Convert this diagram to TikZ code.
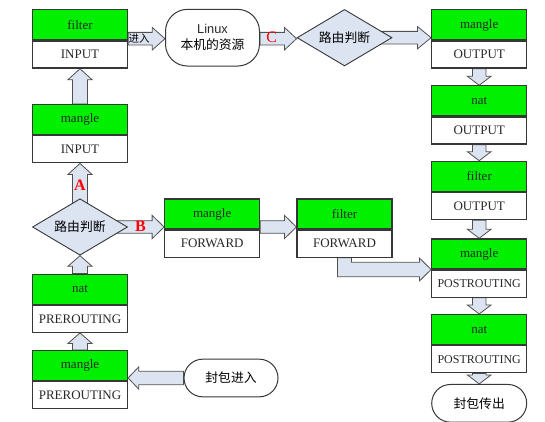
\documentclass[tikz,border=0pt]{standalone}
\usepackage{fontspec}
\setmainfont{Liberation Serif}
\newfontfamily\cjk{Noto Sans CJK SC}
\newfontfamily\lsans{Liberation Sans}
\usetikzlibrary{shapes.geometric,calc,backgrounds}
\definecolor{boxgreen}{RGB}{0,240,0}
\definecolor{arrfill}{RGB}{220,228,242}
\definecolor{edge}{RGB}{55,55,55}
\definecolor{arredge}{RGB}{80,80,80}
\definecolor{lbl}{RGB}{40,40,40}
\newcommand\boxfont{\fontsize{13}{15}\selectfont}
\newcommand\cjkfont{\cjk\fontsize{12.8}{16}\selectfont}
\newcommand\tbox[5]{%
  \node[gbox,anchor=north] (#1T) at (#2,#3) {#4};
  \node[wbox,anchor=north] (#1B) at (#1T.south) {#5};}
\newcommand\uparr[5]{\path[blk] let \p1=(#1), \p2=(#2) in
  (\x2-#3pt,\y1) -- (\x2-#3pt,\y2-#5pt) -- (\x2-#4pt,\y2-#5pt) -- (\x2,\y2) --
  (\x2+#4pt,\y2-#5pt) -- (\x2+#3pt,\y2-#5pt) -- (\x2+#3pt,\y1) -- cycle;}
\newcommand\downarr[5]{\path[blk] let \p1=(#1), \p2=(#2) in
  (\x2-#3pt,\y1) -- (\x2-#3pt,\y2+#5pt) -- (\x2-#4pt,\y2+#5pt) -- (\x2,\y2) --
  (\x2+#4pt,\y2+#5pt) -- (\x2+#3pt,\y2+#5pt) -- (\x2+#3pt,\y1) -- cycle;}
\newcommand\rightarr[5]{\path[blk] let \p1=(#1), \p2=(#2) in
  (\x1,\y2+#3pt) -- (\x2-#5pt,\y2+#3pt) -- (\x2-#5pt,\y2+#4pt) -- (\x2,\y2) --
  (\x2-#5pt,\y2-#4pt) -- (\x2-#5pt,\y2-#3pt) -- (\x1,\y2-#3pt) -- cycle;}
\newcommand\leftarr[5]{\path[blk] let \p1=(#1), \p2=(#2) in
  (\x1,\y2+#3pt) -- (\x2+#5pt,\y2+#3pt) -- (\x2+#5pt,\y2+#4pt) -- (\x2,\y2) --
  (\x2+#5pt,\y2-#4pt) -- (\x2+#5pt,\y2-#3pt) -- (\x1,\y2-#3pt) -- cycle;}
\begin{document}
\begin{tikzpicture}[x=1pt,y=-1pt,
  gbox/.style={draw=edge, line width=1.2pt, fill=boxgreen, minimum width=95pt,
    minimum height=30pt, inner sep=0pt, font=\boxfont, text=lbl},
  wbox/.style={gbox, fill=white, minimum height=27pt},
  dia/.style={diamond, aspect=1.7, draw=edge, line width=0.9pt, fill=arrfill,
    minimum width=95pt, minimum height=56.5pt, inner sep=0pt, font=\cjkfont},
  rbox/.style={draw=edge, line width=1pt, fill=white, inner sep=0pt,
    minimum width=94pt, font=\cjkfont, align=center},
  blk/.style={draw=arredge, line width=0.8pt, fill=arrfill},
  redlbl/.style={text=red, font=\fontsize{16}{16}\selectfont, inner sep=0pt}]
\useasboundingbox (0,0) rectangle (545,422);
\clip (0,0) rectangle (545,422);
% boxes
\tbox{fi}{80}{9.3}{filter}{INPUT}
\tbox{mi}{80}{104}{mangle}{INPUT}
\tbox{np}{80}{273.5}{nat}{PREROUTING}
\tbox{mp}{80}{350}{mangle}{PREROUTING}
\tbox{mf}{212.2}{198.3}{mangle}{FORWARD}
\tbox{ff}{344.5}{198.3}{filter}{FORWARD}
\tbox{mo}{479.2}{9.3}{mangle}{OUTPUT}
\tbox{no}{479.2}{85.3}{nat}{OUTPUT}
\tbox{fo}{479.2}{160.7}{filter}{OUTPUT}
\tbox{mpo}{479.2}{238.3}{mangle}{{\fontsize{12}{15}\selectfont POSTROUTING}}
\tbox{npo}{479.2}{314}{nat}{{\fontsize{12}{15}\selectfont POSTROUTING}}
% diamonds and rounded boxes
\node[dia] (d1) at (80,227) {路由判断};
\node[dia] (d2) at (344.5,37.7) {路由判断};
\node[rbox, rounded corners=22pt, minimum height=56.7pt] (lx) at (212.5,37.7)
  {{\lsans\color{lbl}Linux}\\本机的资源};
\node[rbox, rounded corners=18.8pt, minimum height=37.7pt] (pin) at (231,378) {封包进入};
\node[rbox, rounded corners=18.8pt, minimum height=37.7pt, minimum width=95pt] (pout) at (479.2,403.3) {封包传出};
% arrows
\begin{scope}[on background layer]
\uparr{miT.north}{fiB.south}{7.5}{12}{11}
\uparr{$(d1.north)+(0,6)$}{miB.south}{7.5}{12}{11}
\uparr{npT.north}{d1.south}{7.5}{12}{10.5}
\uparr{mpT.north}{npB.south}{7.5}{12}{10.5}
\leftarr{pin.west}{pin.west -| mpT.east}{6.7}{11.2}{10.7}
\rightarr{$(d1.east)+(-12,0)$}{d1.east -| mfT.west}{6.3}{11.7}{12}
\rightarr{mfT.east |- d1.east}{d1.east -| ffT.west}{6.3}{11.7}{12}
\rightarr{fiT.east}{$(lx.west)+(0,1)$}{6.3}{11.2}{12.7}
\rightarr{lx.east}{$(d2.west)+(0,1)$}{6.3}{11.2}{12}
\rightarr{$(d2.east)+(-12,0)$}{d2.east -| moT.west}{6.3}{11.2}{13.7}
\downarr{moB.south}{noT.north}{6.7}{11.8}{9}
\downarr{noB.south}{foT.north}{6.7}{11.8}{9}
\downarr{foB.south}{mpoT.north}{6.7}{11.8}{9}
\downarr{mpoB.south}{npoT.north}{6.7}{11.8}{9}
\downarr{npoB.south}{pout.north}{6.7}{11.8}{9}
\path[blk] let \p1=(ffB.south), \p2=(mpoT.south west) in
  (\x1-7pt,\y1) -- (\x1-7pt,\y2-7.2pt) -- (\x2-11.7pt,\y2-7.2pt) -- (\x2-11.7pt,\y2-11.5pt) --
  (\x2,\y2) -- (\x2-11.7pt,\y2+11.5pt) -- (\x2-11.7pt,\y2+7.2pt) -- (\x1+7pt,\y2+7.2pt) --
  (\x1+7pt,\y1) -- cycle;
\end{scope}
% labels
\node[inner sep=0pt, font=\cjk\fontsize{10.5}{12}\selectfont] (jr) at (139,38.5) {进入};
\node[redlbl, font=\bfseries\fontsize{16}{16}\selectfont] (la) at (80,185.5) {A};
\node[redlbl, font=\bfseries\fontsize{16}{16}\selectfont] (lb) at (140.5,226.5) {B};
\node[redlbl] (lc) at (271.8,37.5) {C};
\end{tikzpicture}
\end{document}
